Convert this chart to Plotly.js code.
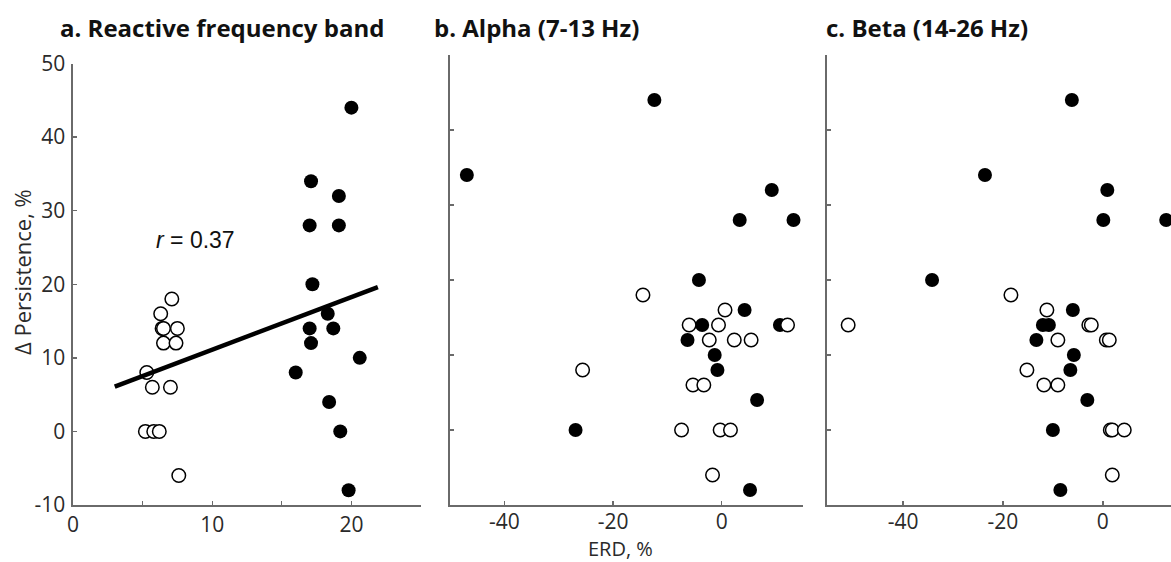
<!DOCTYPE html>
<html>
<head>
<meta charset="utf-8">
<script src="https://cdn.plot.ly/plotly-3.0.1.min.js"></script>
<style>
html, body { margin: 0; padding: 0; overflow: hidden; background: #fff; }
#chart { width: 1180px; height: 562px; }
</style>
</head>
<body>
<div id="chart"></div>
<script>
// ---- Data ----
// Panel a: Reactive frequency band (x = ERD %, y = Δ Persistence %)
const aOpenX = [7.1, 6.3, 6.4, 6.5, 7.5, 6.5, 7.4, 5.3, 5.7, 7.0, 5.2, 5.8, 6.2, 7.6];
const aOpenY = [18, 16, 14, 14, 14, 12, 12, 8, 6, 6, 0, 0, 0, -6];
const aFillX = [20.0, 17.1, 19.1, 17.0, 19.1, 17.2, 18.3, 17.0, 18.7, 17.1, 20.6, 16.0, 18.4, 19.2, 19.8];
const aFillY = [44, 34, 32, 28, 28, 20, 16, 14, 14, 12, 10, 8, 4, 0, -8];
// Regression line endpoints in panel a
const fitX = [3.0, 21.9];
const fitY = [6.1, 19.6];

// Panel b: Alpha (7-13 Hz)
const bFillX = [-12.4, -46.9, 9.2, 3.3, 13.2, -4.2, 4.2, -3.6, 10.7, -6.3, -1.3, -0.8, 6.5, -26.9, 5.2];
const bFillY = [44, 34, 32, 28, 28, 20, 16, 14, 14, 12, 10, 8, 4, 0, -8];
const bOpenX = [-14.5, 0.6, -6.0, -0.6, 12.1, -2.3, 2.3, 5.4, -25.6, -5.3, -3.3, -7.4, -0.3, 1.6, -1.7];
const bOpenY = [18, 16, 14, 14, 14, 12, 12, 12, 8, 6, 6, 0, 0, 0, -6];

// Panel c: Beta (14-26 Hz)
const cFillX = [-6.2, -23.6, 0.9, 0.1, 12.7, -34.2, -6.0, -12.0, -10.8, -13.3, -5.8, -6.5, -3.1, -10.0, -8.5];
const cFillY = [44, 34, 32, 28, 28, 20, 16, 14, 14, 12, 10, 8, 4, 0, -8];
const cOpenX = [-18.4, -11.2, -51.0, -2.8, -2.3, -9.0, 0.7, 1.3, -15.2, -11.8, -9.0, 1.5, 1.9, 4.3, 1.9];
const cOpenY = [18, 16, 14, 14, 14, 12, 12, 12, 8, 6, 6, 0, 0, 0, -6];

// Tick values and labels
const aXTicks = [0, 5, 10, 15, 20, 25];
const aXTickText = ['0', '', '10', '', '20', ''];
const yTicks = [-10, 0, 10, 20, 30, 40, 50];
const yTickText = ['-10', '0', '10', '20', '30', '40', '50'];
const bcXTicks = [-40, -20, 0];
const bcXTickText = ['-40', '-20', '0'];

const panelTitles = ['a. Reactive frequency band', 'b. Alpha (7-13 Hz)', 'c. Beta (14-26 Hz)'];
const xTitle = 'ERD, %';
const yTitle = 'Δ Persistence, %';
const rText = '<i>r</i> = 0.37';

// ---- Layout helpers ----
const W = 1180, H = 562;
const px = v => v / W;
const py = v => 1 - v / H;

const AX = '#6a6a6a';
const tickFont = { family: 'Open Sans, sans-serif', size: 21, color: '#2a2a2a' };

function filled(x, y, xa, ya) {
  return { x, y, xaxis: xa, yaxis: ya, type: 'scatter', mode: 'markers',
    marker: { size: 14, color: '#000', line: { width: 0 } }, hoverinfo: 'skip', cliponaxis: false };
}
function open(x, y, xa, ya) {
  return { x, y, xaxis: xa, yaxis: ya, type: 'scatter', mode: 'markers',
    marker: { size: 13.5, color: '#fff', line: { width: 1.5, color: '#000' } }, hoverinfo: 'skip', cliponaxis: false };
}

const data = [
  filled(aFillX, aFillY, 'x', 'y'),
  open(aOpenX, aOpenY, 'x', 'y'),
  { x: fitX, y: fitY, xaxis: 'x', yaxis: 'y', type: 'scatter', mode: 'lines',
    line: { color: '#000', width: 4.5 }, hoverinfo: 'skip' },
  filled(bFillX, bFillY, 'x2', 'y2'),
  open(bOpenX, bOpenY, 'x2', 'y2'),
  filled(cFillX, cFillY, 'x3', 'y3'),
  open(cOpenX, cOpenY, 'x3', 'y3')
];

const baseAxis = {
  showgrid: false, zeroline: false, showline: true, linecolor: AX, linewidth: 1.6,
  ticks: 'inside', ticklen: 4, tickwidth: 1.4, tickcolor: AX, tickfont: tickFont,
  fixedrange: true
};

const layout = {
  width: W, height: H,
  margin: { l: 0, r: 0, t: 0, b: 0 },
  paper_bgcolor: '#fff', plot_bgcolor: '#fff',
  showlegend: false,
  xaxis: Object.assign({}, baseAxis, {
    domain: [px(73), px(421)], range: [0, 25], anchor: 'y',
    tickmode: 'array', tickvals: aXTicks, ticktext: aXTickText
  }),
  yaxis: Object.assign({}, baseAxis, {
    domain: [py(505), py(63.5)], range: [-10, 50], anchor: 'x',
    tickmode: 'array', tickvals: yTicks, ticktext: yTickText, ticklabelstandoff: 2
  }),
  xaxis2: Object.assign({}, baseAxis, {
    domain: [px(450), px(803.3)], range: [-50, 15], anchor: 'y2',
    tickmode: 'array', tickvals: bcXTicks, ticktext: bcXTickText, ticklabelstandoff: -3
  }),
  yaxis2: Object.assign({}, baseAxis, {
    domain: [py(505), py(55)], range: [-10, 50], anchor: 'x2',
    tickmode: 'array', tickvals: yTicks, showticklabels: false
  }),
  xaxis3: Object.assign({}, baseAxis, {
    domain: [px(826.7), px(1177.7)], range: [-55.3, 15], anchor: 'y3',
    tickmode: 'array', tickvals: bcXTicks, ticktext: bcXTickText, ticklabelstandoff: -3
  }),
  yaxis3: Object.assign({}, baseAxis, {
    domain: [py(505), py(55)], range: [-10, 50], anchor: 'x3',
    tickmode: 'array', tickvals: yTicks, showticklabels: false
  }),
  annotations: [
    { text: '<b>' + panelTitles[0] + '</b>', xref: 'paper', yref: 'paper', x: px(58), y: py(27),
      xanchor: 'left', yanchor: 'middle', showarrow: false,
      font: { family: 'Open Sans, sans-serif', size: 24, color: '#111' } },
    { text: '<b>' + panelTitles[1] + '</b>', xref: 'paper', yref: 'paper', x: px(432), y: py(27),
      xanchor: 'left', yanchor: 'middle', showarrow: false,
      font: { family: 'Open Sans, sans-serif', size: 24, color: '#111' } },
    { text: '<b>' + panelTitles[2] + '</b>', xref: 'paper', yref: 'paper', x: px(824), y: py(27),
      xanchor: 'left', yanchor: 'middle', showarrow: false,
      font: { family: 'Open Sans, sans-serif', size: 24, color: '#111' } },
    { text: xTitle, xref: 'paper', yref: 'paper', x: px(620), y: py(548),
      xanchor: 'center', yanchor: 'middle', showarrow: false, borderpad: 0,
      font: { family: 'Open Sans, sans-serif', size: 20, color: '#2a2a2a' } },
    { text: yTitle, xref: 'paper', yref: 'paper', x: px(22), y: py(272), textangle: -90,
      xanchor: 'center', yanchor: 'middle', showarrow: false,
      font: { family: 'Open Sans, sans-serif', size: 22, color: '#2a2a2a' } },
    { text: rText, xref: 'x', yref: 'y', x: 8.8, y: 26,
      xanchor: 'center', yanchor: 'middle', showarrow: false,
      font: { family: 'Liberation Sans, Arial, sans-serif', size: 23, color: '#111' } }
  ]
};

Plotly.newPlot('chart', data, layout, { staticPlot: true, displayModeBar: false });
</script>
</body>
</html>
